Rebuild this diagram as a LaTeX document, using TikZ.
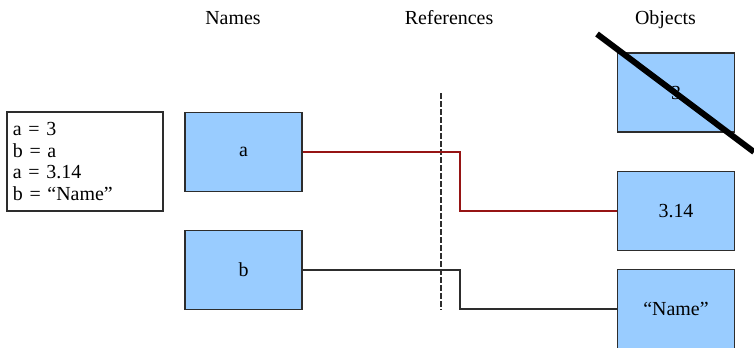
\documentclass[tikz,border=0pt]{standalone}
\usepackage{fontspec}
\setmainfont{Liberation Serif}
\definecolor{boxblue}{RGB}{153,204,255}
\definecolor{refred}{RGB}{150,20,20}
\definecolor{edgegray}{RGB}{45,45,45}
\tikzset{
	namebox/.style={draw=edgegray,fill=boxblue,line width=1.2bp,minimum width=117bp,minimum height=79bp,inner sep=0pt},
	reflink/.style={line width=1.8bp},
	header/.style={anchor=base}
}
\begin{document}
\begin{tikzpicture}[x=1bp,y=-1bp,font=\fontsize{20}{21.5}\selectfont]
	\useasboundingbox (0,0) rectangle (754,347);
	% headers
	\foreach \t/\x in {Names/233,References/449,Objects/665.5}{
		\node[header] (h\t) at (\x,24) {\t};
	}
	% the code
	\node[draw=edgegray,line width=1.2bp,minimum width=156bp,minimum height=99bp,text width=144bp,align=left,inner sep=6bp] (code) at (85,161.5) {a = 3\\b = a\\a = 3.14\\b = “Name”};
	% names and objects
	\node[namebox] (a) at (243.5,152) {a};
	\node[namebox] (b) at (243.5,270) {b};
	\node[namebox] (v3) at (676,92.5) {3};
	\node[namebox] (v314) at (676,211) {3.14};
	\node[namebox] (vname) at (676,309) {“Name”};
	% references
	\path (441,93) coordinate (dtop)
		(441,310) coordinate (dbot)
		(460,0) coordinate (kink);
	\draw[edgegray,line width=1.6bp,dash pattern=on 6bp off 2bp] (dtop)--(dbot);
	\draw[reflink,refred] (a)--(a-|kink)|-(v314);
	\draw[reflink,edgegray] (b)--(b-|kink)|-(vname);
	% old object gone
	\draw[line width=6bp] (597,34) coordinate (s1)--(754,152) coordinate (s2);
\end{tikzpicture}
\end{document}
